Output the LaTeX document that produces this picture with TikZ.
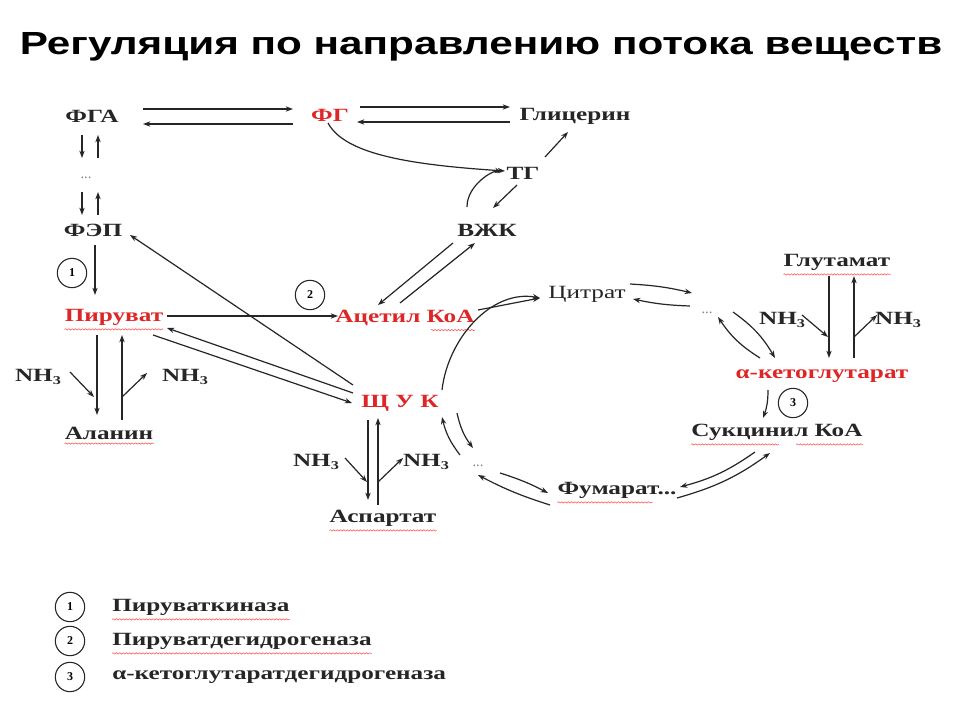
\documentclass[tikz,border=0pt]{standalone}
\usepackage{fontspec}
\usepackage{graphicx}
\setmainfont{Liberation Serif}
\newfontfamily\titlefont{Liberation Sans}
\usetikzlibrary{arrows.meta,calc,decorations.pathmorphing}
\definecolor{myred}{RGB}{222,38,38}
\newcommand\sx[1]{\scalebox{1.35}[1]{#1}}
\newcommand\nhthree{NH\raisebox{-2.5pt}{\small 3}}
\tikzset{
  lbl/.style={font=\bfseries\fontsize{14}{16}\selectfont, inner sep=0pt, text=black!85},
  rlbl/.style={lbl, text=myred},
  dotsty/.style={font=\fontsize{11}{12}\selectfont, text=gray, inner sep=0pt},
  numc/.style={circle, draw=black!85, line width=0.8pt, minimum size=22pt, inner sep=0pt, font=\bfseries\fontsize{9}{10}\selectfont},
  arr/.style={draw=black!85, line width=0.9pt, -{Stealth[length=5.5pt,width=4pt]}},
  wav/.style={draw=red!70, line width=0.4pt, decorate, decoration={snake, amplitude=0.5pt, segment length=2.5pt}}
}
\begin{document}
\begin{tikzpicture}[x=0.75pt,y=-0.75pt]
\useasboundingbox[fill=white] (0,0) rectangle (960,720);
% title
\node (title) at (481,47) {\titlefont\bfseries\fontsize{24}{28}\selectfont\scalebox{1.32}[1]{Регуляция по направлению потока веществ}};
% nodes
\node[lbl]  (fga)  at (92,116)  {\sx{ФГА}};
\node[rlbl] (fg)   at (330,115) {\sx{ФГ}};
\node[lbl]  (gli)  at (575,116) {\sx{Глицерин}};
\node[lbl]  (tg)   at (523,173) {\sx{ТГ}};
\node[lbl]  (vzk)  at (487,230) {\sx{ВЖК}};
\node[dotsty] (d1) at (86,178)  {...};
\node[lbl]  (fep)  at (93,230)  {\sx{ФЭП}};
\node[numc] (c1)   at (72,273)  {1};
\node[rlbl] (pir)  at (114,317) {\sx{Пируват}};
\node[numc] (c2)   at (310,295) {2};
\node[rlbl] (acoa) at (405,318) {\sx{Ацетил КоА}};
\node[lbl,font=\fontsize{14}{16}\selectfont]  (cit)  at (587,294) {\sx{Цитрат}};
\node[dotsty] (d2) at (707,313) {...};
\node[lbl]  (glu)  at (837,262) {\sx{Глутамат}};
\node[lbl]  (nha)  at (782,320) {\sx{\nhthree}};
\node[lbl]  (nhb)  at (898,320) {\sx{\nhthree}};
\node[rlbl] (akg)  at (822,376) {\sx{α-кетоглутарат}};
\node[numc] (c3)   at (793,403) {3};
\node[lbl]  (suk)  at (777,432) {\sx{Сукцинил КоА}};
\node[lbl]  (fum)  at (617,490) {\sx{Фумарат...}};
\node[dotsty] (d3) at (478,466) {...};
\node[rlbl] (shuk) at (400,403) {\sx{Щ У К}};
\node[lbl]  (nhc)  at (316,462) {\sx{\nhthree}};
\node[lbl]  (nhd)  at (426,462) {\sx{\nhthree}};
\node[lbl]  (asp)  at (383,518) {\sx{Аспартат}};
\node[lbl]  (nhe)  at (38,377)  {\sx{\nhthree}};
\node[lbl]  (nhf)  at (185,377) {\sx{\nhthree}};
\node[lbl]  (ala)  at (109,433) {\sx{Аланин}};
% legend
\node[numc] (l1) at (70,607) {1};
\node[numc] (l2) at (70,641) {2};
\node[numc] (l3) at (70,677) {3};
\node[lbl,anchor=west] (t1) at (112,607) {\sx{Пируваткиназа}};
\node[lbl,anchor=west] (t2) at (112,641) {\sx{Пируватдегидрогеназа}};
\node[lbl,anchor=west] (t3) at (112,677) {\sx{α-кетоглутаратдегидрогеназа}};
% spell-check underlines
\foreach \n in {pir,ala,asp,glu,t1,t2}{
  \draw[wav] ([yshift=-3pt]\n.south west) -- ([yshift=-3pt]\n.south east);
}
\draw[wav] ([yshift=-3pt]fum.south west) -- ([xshift=-18pt,yshift=-3pt]fum.south east);
\draw[wav] ([yshift=-3pt]suk.south west) -- ([xshift=-63pt,yshift=-3pt]suk.south east);
\draw[wav] ([xshift=-50pt,yshift=-3pt]suk.south east) -- ([yshift=-3pt]suk.south east);
\draw[wav] ([xshift=-33pt,yshift=-3pt]acoa.south east) -- ([yshift=-3pt]acoa.south east);
% FGA <-> FG <-> glycerol
\draw[arr] ($(fga)+(51,-7)$) -- ($(fg)+(-37,-6)$);
\draw[arr] ($(fg)+(-37,9)$) -- ($(fga)+(51,8)$);
\draw[arr] ($(fg)+(30,-8)$) -- ($(gli)+(-65,-9)$);
\draw[arr] ($(gli)+(-65,6)$) -- ($(fg)+(27,7)$);
\draw[arr] ($(fg)+(-2,8)$) .. controls ($(fg)+(15,40)$) and ($(tg)+(-110,-8)$) .. ($(tg)+(-18,-2)$);
\draw[arr] ($(tg)+(22,-16)$) -- ($(gli)+(-7,16)$);
\draw[arr] ($(tg)+(-6,12)$) -- ($(vzk)+(6,-22)$);
\draw[arr] ($(vzk)+(-20,-23)$) .. controls ($(vzk)+(-20,-45)$) and ($(tg)+(-30,-3)$) .. ($(tg)+(-21,-1)$);
\draw[arr] ($(vzk)+(-34,13)$) -- ($(acoa)+(-27,-13)$);
\draw[arr] ($(acoa)+(-5,-15)$) -- ($(vzk)+(-12,13)$);
% glycolysis column
\draw[arr] ($(fga)+(-10,19)$) -- ($(d1)+(-4,-20)$);
\draw[arr] ($(d1)+(12,-20)$) -- ($(fga)+(6,19)$);
\draw[arr] ($(d1)+(-4,14)$) -- ($(fep)+(-11,-15)$);
\draw[arr] ($(fep)+(5,-15)$) -- ($(d1)+(12,14)$);
\draw[arr] ($(fep)+(2,15)$) -- ($(pir)+(-19,-22)$);
\draw[arr] ($(shuk)+(-47,-18)$) -- ($(fep)+(37,5)$);
% pyruvate
\draw[arr] ($(pir)+(53,-1)$) -- ($(acoa)+(-67,-2)$);
\draw[arr] ($(shuk)+(-47,-10)$) -- ($(pir)+(53,11)$);
\draw[arr] ($(pir)+(39,18)$) -- ($(shuk)+(-48,0)$);
\draw[arr] ($(pir)+(-17,18)$) -- ($(ala)+(-12,-18)$);
\draw[arr] ($(nhe)+(32,-5)$) -- ($(ala)+(-15,-36)$);
\draw[arr] ($(ala)+(13,-13)$) -- ($(pir)+(8,18)$);
\draw[arr] ($(ala)+(13,-36)$) -- ($(nhf)+(-38,-4)$);
% TCA
\draw[arr] ($(acoa)+(73,-8)$) -- ($(cit)+(-47,4)$);
\draw[arr] ($(shuk)+(42,-13)$) .. controls ($(shuk)+(48,-65)$) and ($(cit)+(-95,-5)$) .. ($(cit)+(-47,4)$);
\draw[arr] ($(cit)+(43,-10)$) to[bend left=5] ($(d2)+(-15,-20)$);
\draw[arr] ($(d2)+(-17,-7)$) to[bend left=5] ($(cit)+(46,5)$);
\draw[arr] ($(d2)+(26,-1)$) to[bend left=12] ($(akg)+(-47,-18)$);
\draw[arr] ($(akg)+(-62,-18)$) to[bend left=12] ($(d2)+(11,4)$);
\draw[arr] ($(akg)+(-54,14)$) to[bend left=10] ($(suk)+(-14,-14)$);
\draw[arr] ($(suk)+(-22,20)$) to[bend left=10] ($(fum)+(63,-3)$);
\draw[arr] ($(fum)+(60,8)$) to[bend right=10] ($(suk)+(-7,21)$);
\draw[arr] ($(d3)+(22,7)$) to[bend left=5] ($(fum)+(-69,3)$);
\draw[arr] ($(fum)+(-67,15)$) to[bend left=5] ($(d3)+(0,9)$);
\draw[arr] ($(shuk)+(57,10)$) to[bend right=12] ($(d3)+(-5,-18)$);
\draw[arr] ($(d3)+(-18,-11)$) to[bend left=12] ($(shuk)+(42,14)$);
% glutamate
\draw[arr] ($(glu)+(-8,14)$) -- ($(akg)+(7,-18)$);
\draw[arr] ($(nha)+(20,-5)$) -- ($(akg)+(6,-39)$);
\draw[arr] ($(akg)+(32,-18)$) -- ($(glu)+(17,14)$);
\draw[arr] ($(akg)+(32,-39)$) -- ($(nhb)+(-21,-5)$);
% aspartate
\draw[arr] ($(shuk)+(-32,17)$) -- ($(asp)+(-15,-18)$);
\draw[arr] ($(nhc)+(29,-4)$) -- ($(asp)+(-16,-36)$);
\draw[arr] ($(asp)+(-5,-13)$) -- ($(shuk)+(-22,15)$);
\draw[arr] ($(asp)+(-5,-36)$) -- ($(nhd)+(-23,-4)$);
\end{tikzpicture}
\end{document}
